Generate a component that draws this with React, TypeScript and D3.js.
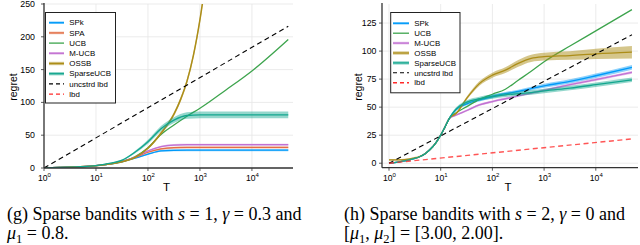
import React from "react";
import * as d3 from "d3";

// ---------- Panel (g) data ----------
const G_T = [1, 2, 3, 5, 10, 18, 32, 56, 100, 178, 316, 562, 1000, 3162, 10000, 50000];
const G_SPK = [0, 0.8, 1.3, 2, 3.5, 6, 9.5, 15, 21, 26, 27, 27.2, 27.2, 27.2, 27.2, 27.2];
const G_SPA = [0, 0.8, 1.3, 2, 3.5, 6, 10, 16, 24, 29, 31, 31.3, 31.3, 31.3, 31.3, 31.3];
const G_UCB = [0, 0.8, 1.3, 2, 3.5, 6, 10, 17, 31, 51, 65.5, 79, 91, 119, 148, 196];
const G_MUCB = [0, 0.8, 1.3, 2, 3.5, 6, 10, 16.5, 26, 32.5, 35, 35.5, 35.5, 35.5, 35.5, 35.5];
const G_SPARSE = [0, 0.8, 1.3, 2, 3.6, 7, 12, 24, 40, 60, 73, 80, 81, 81, 81, 81];
const G_SMALL_BAND = [0, 0, 0, 0, 0.2, 0.4, 0.6, 0.8, 1, 1.3, 1.5, 1.5, 1.5, 1.5, 1.5, 1.5];
const G_SPARSE_BAND = [0, 0, 0, 0, 0.2, 0.5, 1, 2, 3, 4, 4.5, 5, 5, 5, 5, 5];
const G_OSSB_T = [1, 2, 3, 5, 10, 18, 32, 56, 100, 178, 316, 427, 562, 750, 1000, 1200];
const G_OSSB = [0, 0.8, 1.3, 2, 3.5, 6, 9.5, 16, 30, 53, 82, 105, 132, 172, 226, 268];
const G_OSSB_BAND = [0, 0, 0, 0, 0.3, 0.5, 0.8, 1, 1.5, 2.5, 3, 3.5, 4, 4.5, 5, 5];
const G_LBD_T = [1, 50000];
const G_UNC = [0, 216];
const G_YTICKS = [0, 50, 100, 150, 200, 250];

// ---------- Panel (h) data ----------
const H_T = [1, 1.5, 2, 3, 4, 5, 6, 8, 10, 12, 14.7, 20, 32, 56, 100, 178, 316, 562, 1000, 3162, 10000, 50000];
const H_SPK = [0, 1, 2, 4, 6, 8.5, 11.5, 18, 25, 32, 40, 48, 53, 56.5, 59.5, 62, 64, 66.5, 69, 73, 78, 85.5];
const H_UCB = [0, 1, 2, 4, 6, 8.5, 11.5, 18, 25, 32, 40, 45, 50.5, 57, 61.5, 66, 74, 82, 90.5, 104.5, 118, 137];
const H_MUCB = [0, 1, 2, 4, 6, 8.5, 11.5, 18, 25, 32, 40, 43, 47, 52, 55, 57.5, 60, 62.5, 65, 70, 74.5, 81];
const H_OSSB = [3, 3, 3.2, 4.5, 6, 8.5, 11.5, 18, 25, 32, 40, 44.5, 58, 71, 78.5, 83, 89, 93.5, 95, 96, 97.5, 99];
const H_SPARSE = [0, 1, 2, 4, 6, 8.5, 11.5, 18, 25, 32, 40, 48.5, 54.5, 57.5, 59.5, 61, 62, 63, 64.5, 67, 70, 74.4];
const H_SPK_BAND = [0, 0, 0, 0.2, 0.3, 0.4, 0.5, 0.6, 0.8, 1, 1, 1.2, 1.3, 1.4, 1.5, 1.5, 1.6, 1.7, 1.8, 1.9, 2, 2.2];
const H_MUCB_BAND = [0, 0, 0, 0.2, 0.3, 0.4, 0.5, 0.6, 0.8, 0.8, 0.8, 0.8, 0.9, 1, 1, 1, 1, 1.1, 1.1, 1.2, 1.2, 1.3];
const H_OSSB_BAND = [0.5, 0.6, 0.7, 0.8, 0.8, 0.8, 0.8, 0.8, 0.8, 0.8, 0.8, 1, 1.5, 2, 2.2, 2.5, 3, 3.2, 3.5, 3.8, 4.5, 5.5];
const H_SPARSE_BAND = [0, 0, 0, 0.2, 0.3, 0.4, 0.5, 0.6, 0.8, 1, 1.2, 1.5, 1.7, 1.8, 1.9, 1.9, 2, 2, 2, 2, 2, 2];
const H_LBD_T = [1, 50000];
const H_UNC = [0, 114.5];
const H_LBD = [0, 21.7];
const H_YTICKS = [0, 25, 50, 75, 100, 125];

const X_TICK_EXP = [0, 1, 2, 3, 4];

const COLORS: Record<string, string> = {
  SPk: "#009af9",
  SPA: "#e26f46",
  UCB: "#3da44d",
  "M-UCB": "#c271d2",
  OSSB: "#ac8d18",
  SparseUCB: "#12a68e",
  "uncstrd lbd": "#000000",
  lbd: "#ff2a2a",
};

type Series = {
  name: string;
  t: number[];
  v: number[];
  band?: number[];
  width?: number;
  dashed?: boolean;
  bandOpacity?: number;
};

type PanelCfg = {
  id: string;
  left: number;
  right: number;
  top: number;
  bottom: number;
  xDomain: [number, number];
  yDomain: [number, number];
  yTicks: number[];
  yLabelX: number;
  yTitleX: number;
  series: Series[];
  legend: { x: number; y: number; w: number; h: number; first: number; step: number; lx0: number; lx1: number; tx: number; names: string[] };
};

const FONT = "'Liberation Sans', Arial, Helvetica, sans-serif";

function Panel({ cfg }: { cfg: PanelCfg }) {
  const x = d3.scaleLog().domain(cfg.xDomain).range([cfg.left, cfg.right]);
  const y = d3.scaleLinear().domain(cfg.yDomain).range([cfg.bottom, cfg.top]);
  const line = (s: Series) =>
    d3
      .line<number>()
      .x((_, i) => x(s.t[i]))
      .y((d) => y(d))
      .curve(d3.curveMonotoneX)(s.v) || "";
  const area = (s: Series) =>
    d3
      .area<number>()
      .x((_, i) => x(s.t[i]))
      .y0((d, i) => y(d - (s.band as number[])[i]))
      .y1((d, i) => y(d + (s.band as number[])[i]))
      .curve(d3.curveMonotoneX)(s.v) || "";
  const clipId = "clip-" + cfg.id;
  const byName: Record<string, Series> = {};
  cfg.series.forEach((s) => (byName[s.name] = s));
  const L = cfg.legend;
  return (
    <g>
      <defs>
        <clipPath id={clipId}>
          <rect x={cfg.left} y={cfg.top} width={cfg.right - cfg.left} height={cfg.bottom - cfg.top} />
        </clipPath>
      </defs>
      {/* grid */}
      {X_TICK_EXP.map((e) => (
        <line key={"gx" + e} x1={x(Math.pow(10, e))} x2={x(Math.pow(10, e))} y1={cfg.top} y2={cfg.bottom} stroke="#e6e6e6" strokeWidth={0.8} />
      ))}
      {cfg.yTicks.map((t) => (
        <line key={"gy" + t} x1={cfg.left} x2={cfg.right} y1={y(t)} y2={y(t)} stroke="#e6e6e6" strokeWidth={0.8} />
      ))}
      {/* data */}
      <g clipPath={`url(#${clipId})`}>
        {cfg.series.map((s) => (
          <g key={s.name}>
            {s.band && <path d={area(s)} fill={COLORS[s.name]} opacity={s.bandOpacity ?? 0.45} />}
            <path
              d={line(s)}
              fill="none"
              stroke={COLORS[s.name]}
              strokeWidth={s.width ?? 1.3}
              strokeDasharray={s.dashed ? "5,3.5" : undefined}
              opacity={s.name === "lbd" ? 0.8 : 1}
            />
          </g>
        ))}
      </g>
      {/* axes */}
      <line x1={cfg.left} x2={cfg.left} y1={cfg.top - 1} y2={cfg.bottom} stroke="#333" strokeWidth={1.3} />
      <line x1={cfg.left} x2={cfg.right} y1={cfg.bottom} y2={cfg.bottom} stroke="#333" strokeWidth={1.3} />
      {cfg.yTicks.map((t) => (
        <g key={"yt" + t}>
          <line x1={cfg.left - 3} x2={cfg.left} y1={y(t)} y2={y(t)} stroke="#333" strokeWidth={0.8} />
          <text x={cfg.yLabelX} y={y(t)} dy="0.35em" textAnchor="end" fontSize={8.8} fontFamily={FONT} fill="#000">
            {t}
          </text>
        </g>
      ))}
      {X_TICK_EXP.map((e) => (
        <g key={"xt" + e}>
          <line x1={x(Math.pow(10, e))} x2={x(Math.pow(10, e))} y1={cfg.bottom} y2={cfg.bottom + 3} stroke="#333" strokeWidth={0.8} />
          <text x={x(Math.pow(10, e)) + 0.5} y={180.5} textAnchor="middle" fontSize={8.6} fontFamily={FONT} fill="#000">
            <tspan>10</tspan>
            <tspan dy={-4} fontSize={6}>
              {e}
            </tspan>
          </text>
        </g>
      ))}
      <text x={(cfg.left + cfg.right) / 2 - 2} y={190.5} textAnchor="middle" fontSize={11.5} fontFamily={FONT} fill="#000">
        T
      </text>
      <text
        transform={`translate(${cfg.yTitleX},87) rotate(-90)`}
        textAnchor="middle"
        fontSize={10.5}
        fontFamily={FONT}
        fill="#000"
      >
        regret
      </text>
      {/* legend */}
      <rect x={L.x} y={L.y} width={L.w} height={L.h} fill="#fff" stroke="#222" strokeWidth={1} />
      {L.names.map((n, i) => {
        const s = byName[n];
        const yy = L.first + i * L.step;
        return (
          <g key={"lg" + n}>
            {s.band && (
              <line x1={L.lx0} x2={L.lx1} y1={yy} y2={yy} stroke={COLORS[n]} strokeWidth={n === "SparseUCB" || n === "OSSB" ? 3.4 : 2.6} opacity={0.45} />
            )}
            <line
              x1={L.lx0}
              x2={L.lx1}
              y1={yy}
              y2={yy}
              stroke={COLORS[n]}
              strokeWidth={s.width ?? 1.3}
              strokeDasharray={s.dashed ? "4,3" : undefined}
            />
            <text x={L.tx} y={yy} dy="0.35em" fontSize={7.9} fontFamily={FONT} fill="#000">
              {n}
            </text>
          </g>
        );
      })}
    </g>
  );
}

const panelG: PanelCfg = {
  id: "g",
  left: 44,
  right: 293,
  top: 4,
  bottom: 168,
  xDomain: [1, Math.pow(10, 4.79)],
  yDomain: [0, 250],
  yTicks: G_YTICKS,
  yLabelX: 35,
  yTitleX: 17,
  series: [
    { name: "SPk", t: G_T, v: G_SPK, band: G_SMALL_BAND, width: 1.3 },
    { name: "SPA", t: G_T, v: G_SPA, band: G_SMALL_BAND, width: 1.3 },
    { name: "UCB", t: G_T, v: G_UCB, width: 1.3 },
    { name: "M-UCB", t: G_T, v: G_MUCB, band: G_SMALL_BAND, width: 1.3 },
    { name: "OSSB", t: G_OSSB_T, v: G_OSSB, band: G_OSSB_BAND, width: 1.5 },
    { name: "SparseUCB", t: G_T, v: G_SPARSE, band: G_SPARSE_BAND, width: 1.3 },
    { name: "uncstrd lbd", t: G_LBD_T, v: G_UNC, width: 1.1, dashed: true },
  ],
  legend: {
    x: 45.5,
    y: 12.5,
    w: 70,
    h: 90.5,
    first: 22.7,
    step: 10.2,
    lx0: 49,
    lx1: 64,
    tx: 69.3,
    names: ["SPk", "SPA", "UCB", "M-UCB", "OSSB", "SparseUCB", "uncstrd lbd", "lbd"],
  },
};
// lbd present only in legend for panel (g)
panelG.series.push({ name: "lbd", t: G_LBD_T, v: [-10, -10], width: 1.1, dashed: true });

const panelH: PanelCfg = {
  id: "h",
  left: 382,
  right: 638,
  top: 4,
  bottom: 167.7,
  xDomain: [Math.pow(10, -7 / 51.7), Math.pow(10, (638 - 389) / 51.7)],
  yDomain: [-4, 142],
  yTicks: H_YTICKS,
  yLabelX: 376.5,
  yTitleX: 362,
  series: [
    { name: "SPk", t: H_T, v: H_SPK, band: H_SPK_BAND, width: 1.3 },
    { name: "UCB", t: H_T, v: H_UCB, width: 1.3 },
    { name: "M-UCB", t: H_T, v: H_MUCB, band: H_MUCB_BAND, width: 1.3 },
    { name: "OSSB", t: H_T, v: H_OSSB, band: H_OSSB_BAND, width: 1.3, bandOpacity: 0.5 },
    { name: "SparseUCB", t: H_T, v: H_SPARSE, band: H_SPARSE_BAND, width: 1.3 },
    { name: "uncstrd lbd", t: H_LBD_T, v: H_UNC, width: 1.1, dashed: true },
    { name: "lbd", t: H_LBD_T, v: H_LBD, width: 1.4, dashed: true },
  ],
  legend: {
    x: 390.7,
    y: 12.5,
    w: 69.3,
    h: 80.3,
    first: 23.3,
    step: 9.9,
    lx0: 393,
    lx1: 409,
    tx: 414.3,
    names: ["SPk", "UCB", "M-UCB", "OSSB", "SparseUCB", "uncstrd lbd", "lbd"],
  },
};

const SERIF = "'Liberation Serif', 'Times New Roman', Times, serif";

function Caption({ x, lines }: { x: number; lines: React.ReactNode[] }) {
  return (
    <g fontFamily={SERIF} fontSize={18} fill="#000">
      {lines.map((l, i) => (
        <text key={i} x={x} y={220 + i * 19}>
          {l}
        </text>
      ))}
    </g>
  );
}

export default function App() {
  const it = { fontStyle: "italic" as const };
  return (
    <svg width={640} height={245} style={{ position: "absolute", left: 0, top: 0, background: "#fff" }}>
      <rect x={0} y={0} width={640} height={245} fill="#fff" />
      <Panel cfg={panelG} />
      <Panel cfg={panelH} />
      <Caption
        x={7}
        lines={[
          <>
            (g) Sparse bandits with <tspan style={it}>s</tspan> = 1, <tspan style={it}>γ</tspan> = 0.3 and
          </>,
          <>
            <tspan style={it}>μ</tspan>
            <tspan dy={3.5} fontSize={12.5}>1</tspan>
            <tspan dy={-3.5}> = 0.8.</tspan>
          </>,
        ]}
      />
      <Caption
        x={344}
        lines={[
          <>
            (h) Sparse bandits with <tspan style={it}>s</tspan> = 2, <tspan style={it}>γ</tspan> = 0 and
          </>,
          <>
            [<tspan style={it}>μ</tspan>
            <tspan dy={3.5} fontSize={12.5}>1</tspan>
            <tspan dy={-3.5}>, </tspan>
            <tspan style={it}>μ</tspan>
            <tspan dy={3.5} fontSize={12.5}>2</tspan>
            <tspan dy={-3.5}>] = [3.00, 2.00].</tspan>
          </>,
        ]}
      />
    </svg>
  );
}
